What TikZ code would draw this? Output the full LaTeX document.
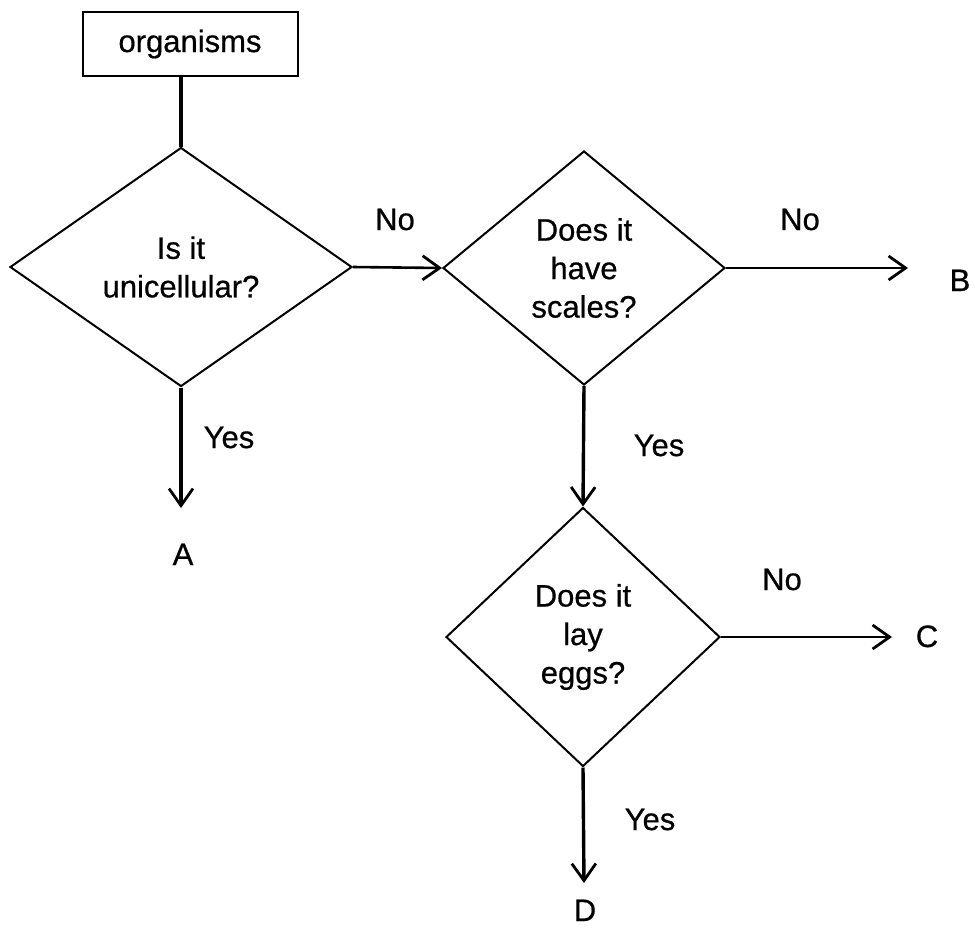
\documentclass[tikz,border=0pt]{standalone}
\usepackage{fontspec}
\setmainfont{Liberation Sans}[FakeBold=0.6]
\usetikzlibrary{shapes.geometric,arrows.meta}
\begin{document}
\begin{tikzpicture}[x=1pt,y=-1pt,
  txt/.style={font=\fontsize{31}{38.5}\selectfont},
  dia/.style={diamond,draw,line width=2pt,inner sep=0pt,aspect=1.4,txt,align=center},
  boxn/.style={rectangle,draw,line width=2pt,txt},
  arr/.style={line width=2.6pt,-{Straight Barb[length=17pt,width=24pt,line width=2.8pt]}},
  lab/.style={txt,anchor=base,inner sep=0pt},
  plainline/.style={line width=3.4pt}]
\useasboundingbox (0,0) rectangle (975,927);
\node[boxn,minimum width=215pt,minimum height=64pt] (org) at (190,44) {organisms};
\node[dia,minimum width=342pt,minimum height=239pt] (d1) at (181,267) {Is it\\unicellular?};
\node[dia,minimum width=282pt,minimum height=234pt] (d2) at (584,268) {Does it\\have\\scales?};
\node[dia,minimum width=274pt,minimum height=259pt] (d3) at (583,637) {Does it\\lay\\eggs?};
\coordinate (ea) at (181,508);
\coordinate (eb) at (908,268);
\coordinate (ec) at (892,637);
\coordinate (ed) at (584,883);
\draw[plainline] (d1.north |- org.south) -- (d1.north);
\draw[arr] (d1.east) -- (d2.west);
\draw[arr] (d2.east) -- (eb);
\draw[arr,line width=3.4pt] (d1.south) -- (ea);
\draw[arr,line width=3.4pt] (d2.south) -- (d3.north);
\draw[arr] (d3.east) -- (ec);
\draw[arr,line width=3.4pt] (d3.south) -- (ed);
\node[lab] (no1) at (395,230) {No};
\node[lab] (no2) at (800,230) {No};
\node[lab] (no3) at (782,590) {No};
\node[lab] (yes1) at (229,448) {Yes};
\node[lab] (yes2) at (659,456) {Yes};
\node[lab] (yes3) at (650,830) {Yes};
\node[lab] (A) at (183,565) {A};
\node[lab] (B) at (960,291) {B};
\node[lab] (C) at (927,647) {C};
\node[lab] (D) at (585,921) {D};
\end{tikzpicture}
\end{document}
